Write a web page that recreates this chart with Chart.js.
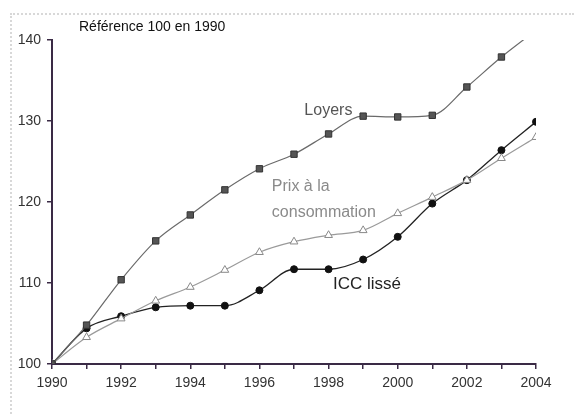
<!DOCTYPE html>
<html>
<head>
<meta charset="utf-8">
<script src="https://cdn.jsdelivr.net/npm/chart.js@4"></script>
<style>
html,body{margin:0;padding:0;background:#fff;}
#wrap{position:relative;width:574px;height:414px;}
#frame{position:absolute;left:10px;top:13px;width:564px;height:401px;border-top:2px dotted #d8d8d8;border-left:2px dotted #d8d8d8;box-sizing:border-box;}
canvas{position:absolute;left:0;top:0;}
</style>
</head>
<body>
<div id="wrap"><div id="frame"></div><canvas id="c" width="574" height="414"></canvas></div>
<script>
const years = [1990,1991,1992,1993,1994,1995,1996,1997,1998,1999,2000,2001,2002,2003,2004];
const loyers = [100,104.8,110.4,115.2,118.4,121.5,124.1,125.9,128.4,130.6,130.5,130.7,134.2,137.9,141.2];
const prix = [100,103.3,105.6,107.8,109.5,111.6,113.8,115.1,115.9,116.5,118.6,120.6,122.7,125.4,128.0];
const icc = [100,104.4,105.9,107.0,107.2,107.2,109.1,111.7,111.7,112.9,115.7,119.8,122.7,126.4,129.9];
const yTicks = [100,110,120,130,140];
const titleText = "Référence 100 en 1990";
const labels = [
  {text:"Loyers", year:1997.3, value:130.8, color:"#555", size:16},
  {text:"Prix à la", year:1996.36, value:121.3, color:"#8a8a8a", size:16},
  {text:"consommation", year:1996.36, value:118.2, color:"#8a8a8a", size:16},
  {text:"ICC lissé", year:1998.13, value:109.3, color:"#222", size:17}
];

function pts(arr){ return years.map((y,i)=>({x:y,y:arr[i]})); }

const textPlugin = {
  id:'texts',
  afterDraw(chart){
    const ctx = chart.ctx, xs = chart.scales.x, ys = chart.scales.y;
    ctx.save();
    ctx.textBaseline = 'alphabetic';
    ctx.textAlign = 'left';
    ctx.fillStyle = '#111';
    ctx.font = '14px "Liberation Sans", Arial, sans-serif';
    ctx.fillText(titleText, 79, 31);
    labels.forEach(l=>{
      ctx.fillStyle = l.color;
      ctx.font = l.size + 'px "Liberation Sans", Arial, sans-serif';
      ctx.fillText(l.text, xs.getPixelForValue(l.year), ys.getPixelForValue(l.value));
    });
    ctx.restore();
  }
};

new Chart(document.getElementById('c'), {
  type:'line',
  data:{
    datasets:[
      {label:'Loyers', data:pts(loyers), borderColor:'#6a6a6a', borderWidth:1.2, pointStyle:'rect', pointRadius:4.5, pointBackgroundColor:'#555', pointBorderColor:'#333', pointBorderWidth:1, cubicInterpolationMode:'monotone'},
      {label:'Prix', data:pts(prix), borderColor:'#9a9a9a', borderWidth:1.2, pointStyle:'triangle', pointRadius:4.5, pointBackgroundColor:'#fff', pointBorderColor:'#888', pointBorderWidth:1, cubicInterpolationMode:'monotone'},
      {label:'ICC', data:pts(icc), borderColor:'#222', borderWidth:1.3, pointStyle:'circle', pointRadius:3.5, pointBackgroundColor:'#111', pointBorderColor:'#111', pointBorderWidth:1, cubicInterpolationMode:'monotone'}
    ]
  },
  options:{
    responsive:false,
    animation:false,
    layout:{padding:{left:0,right:38,top:40,bottom:0}},
    plugins:{legend:{display:false}, tooltip:{enabled:false}},
    scales:{
      x:{
        type:'linear', min:1990, max:2004,
        afterFit(s){ s.height = 50; },
        grid:{drawOnChartArea:false, drawTicks:true, tickLength:5, color:'#3a2a45', lineWidth:1.5},
        border:{display:true, color:'#3a2a45', width:2},
        afterBuildTicks(s){ s.ticks = years.map(v=>({value:v})); },
        ticks:{
          autoSkip:false, maxRotation:0, padding:6,
          color:'#333', font:{family:'"Liberation Sans", Arial, sans-serif', size:14},
          callback:(v)=> (v%2===0 ? String(v) : '')
        }
      },
      y:{
        min:100, max:140,
        afterFit(s){ s.width = 52; },
        grid:{drawOnChartArea:false, drawTicks:true, tickLength:5, color:'#3a2a45', lineWidth:1.5},
        border:{display:true, color:'#3a2a45', width:2},
        afterBuildTicks(s){ s.ticks = yTicks.map(v=>({value:v})); },
        ticks:{
          padding:6, color:'#333', font:{family:'"Liberation Sans", Arial, sans-serif', size:14}
        }
      }
    }
  },
  plugins:[textPlugin]
});
</script>
</body>
</html>
